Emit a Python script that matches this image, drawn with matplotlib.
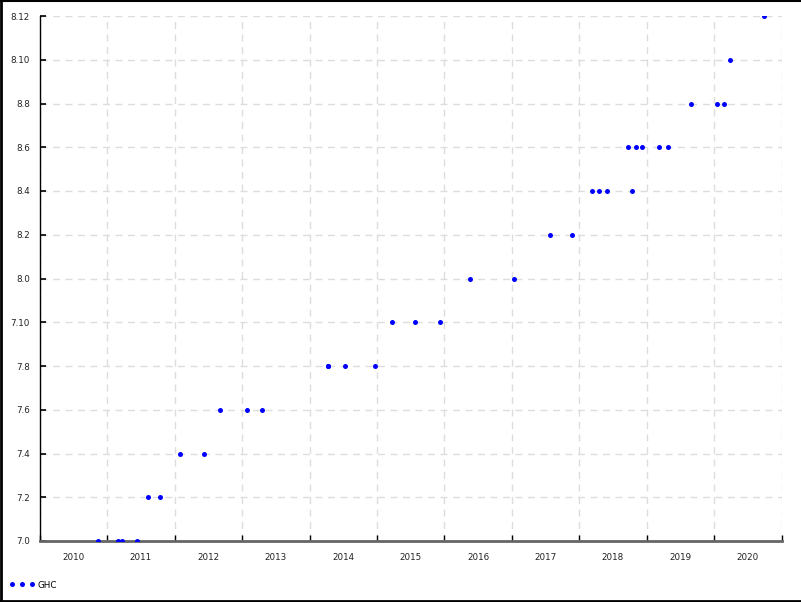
import matplotlib
matplotlib.use("Agg")
import matplotlib.pyplot as plt
import matplotlib.dates as mdates
from matplotlib.lines import Line2D
import datetime as dt

# GHC release dates and the version row they sit on
release_dates = [
    "2010-11-13", "2011-02-27", "2011-03-24", "2011-06-12",
    "2011-08-08", "2011-10-12",
    "2012-01-30", "2012-06-06",
    "2012-09-03", "2013-01-28", "2013-04-21",
    "2014-04-09", "2014-04-11", "2014-07-10", "2014-12-23",
    "2015-03-26", "2015-07-28", "2015-12-07",
    "2016-05-20", "2017-01-12",
    "2017-07-24", "2017-11-24",
    "2018-03-10", "2018-04-20", "2018-05-30", "2018-10-15",
    "2018-09-23", "2018-11-04", "2018-12-08", "2019-03-07", "2019-04-25",
    "2019-08-28", "2020-01-18", "2020-02-25",
    "2020-03-27",
    "2020-09-28",
]
release_versions = [
    "7.0", "7.0", "7.0", "7.0",
    "7.2", "7.2",
    "7.4", "7.4",
    "7.6", "7.6", "7.6",
    "7.8", "7.8", "7.8", "7.8",
    "7.10", "7.10", "7.10",
    "8.0", "8.0",
    "8.2", "8.2",
    "8.4", "8.4", "8.4", "8.4",
    "8.6", "8.6", "8.6", "8.6", "8.6",
    "8.8", "8.8", "8.8",
    "8.10",
    "8.12",
]
version_labels = ["7.0", "7.2", "7.4", "7.6", "7.8", "7.10",
                  "8.0", "8.2", "8.4", "8.6", "8.8", "8.10", "8.12"]
years = list(range(2010, 2021))

plt.rcParams['font.family'] = ['DejaVu Sans']

fig = plt.figure(figsize=(8.01, 6.02), dpi=100)
ax = fig.add_axes([39.7 / 801, 1 - 541 / 602, (781.7 - 39.7) / 801, (541 - 16) / 602])

x = [mdates.date2num(dt.datetime.strptime(d, "%Y-%m-%d")) for d in release_dates]
y = [version_labels.index(v) for v in release_versions]
ax.plot(x, y, linestyle="none", marker="o", markersize=3.6, color="#0000ff",
        markeredgewidth=0, label="GHC", zorder=3)

ax.set_xlim(mdates.date2num(dt.datetime(2010, 1, 1)), mdates.date2num(dt.datetime(2021, 1, 1)))
ax.set_ylim(0, len(version_labels) - 1)

# year boundaries are the grid / ticks, labels sit mid-year
major = [mdates.date2num(dt.datetime(yr, 1, 1)) for yr in years + [2021]]
minor = [mdates.date2num(dt.datetime(yr, 7, 2)) for yr in years]
ax.set_xticks(major)
ax.set_xticklabels([])
ax.set_xticks(minor, minor=True)
ax.set_xticklabels([str(yr) for yr in years], minor=True)
ax.set_yticks(range(len(version_labels)))
ax.set_yticklabels(version_labels)

ax.tick_params(axis="x", which="major", direction="in", length=4, width=1, color="black")
ax.tick_params(axis="x", which="minor", length=0, pad=9, labelsize=6.3, labelcolor="#222222")
ax.tick_params(axis="y", direction="in", length=4, width=1.2, color="black",
               pad=7, labelsize=6.3, labelcolor="#222222")

ax.grid(True, which="major", color="#dddddd", linestyle=(0, (5, 4)), linewidth=1)
for s in ["top", "right"]:
    ax.spines[s].set_visible(False)
ax.spines["left"].set_color("black")
ax.spines["left"].set_linewidth(1)
ax.spines["bottom"].set_color("#666666")
ax.spines["bottom"].set_linewidth(2)

# legend: three dots then the label, bottom left
handle = Line2D([], [], linestyle="none", marker="o", markersize=3.6,
                color="#0000ff", markeredgewidth=0)
fig.legend([handle], ["GHC"], loc="center left", bbox_to_anchor=(9.4 / 801, 1 - 585 / 602),
           frameon=False, numpoints=3, handlelength=2.9, handletextpad=0.28,
           fontsize=6.3, borderaxespad=0, borderpad=0)

# outer frame of the screenshot (top, left, bottom)
fig.add_artist(Line2D([0, 1], [1 - 0.5 / 602, 1 - 0.5 / 602], transform=fig.transFigure, color="black", lw=1.5))
fig.add_artist(Line2D([1 / 801, 1 / 801], [0, 1], transform=fig.transFigure, color="black", lw=2))
fig.add_artist(Line2D([0, 1], [1.3 / 602, 1.3 / 602], transform=fig.transFigure, color="black", lw=2))

fig.savefig("out.png", dpi=100)
